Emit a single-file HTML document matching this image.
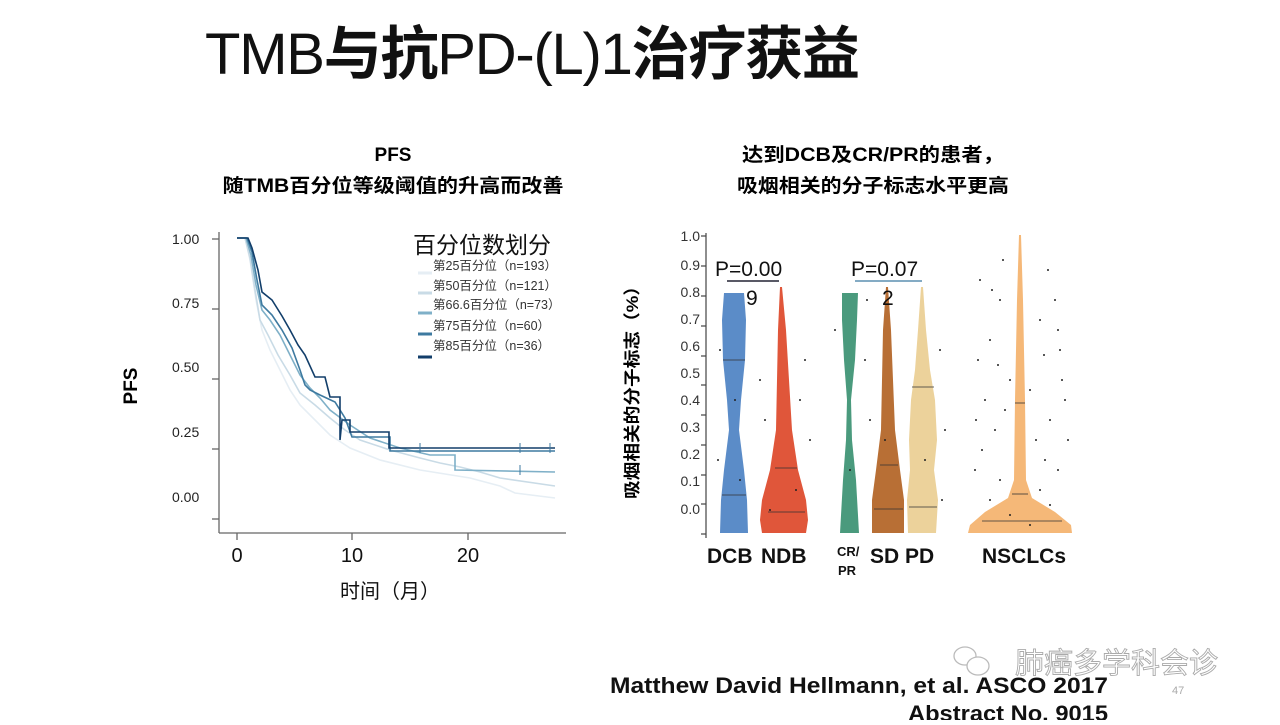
<!DOCTYPE html>
<html><head><meta charset="utf-8"><style>
html,body{margin:0;padding:0;background:#fff;}
body{width:1280px;height:720px;overflow:hidden;position:relative;font-family:"Liberation Sans","Noto Sans CJK SC",sans-serif;}
</style></head><body>
<svg width="1280" height="720" viewBox="0 0 1280 720" xmlns="http://www.w3.org/2000/svg" font-family="Liberation Sans, Noto Sans CJK SC, sans-serif">
<!-- Title -->
<text x="205" y="74" font-size="58" fill="#111" textLength="655" lengthAdjust="spacing"><tspan font-weight="normal">TMB</tspan><tspan font-weight="bold">与抗</tspan><tspan>PD-(L)1</tspan><tspan font-weight="bold">治疗获益</tspan></text>

<text x="393" y="161" font-size="19" font-weight="bold" text-anchor="middle">PFS</text>
<text x="393" y="192" font-size="19" font-weight="bold" text-anchor="middle" textLength="341" lengthAdjust="spacingAndGlyphs">随TMB百分位等级阈值的升高而改善</text>
<text x="873" y="161" font-size="19" font-weight="bold" text-anchor="middle" textLength="262" lengthAdjust="spacingAndGlyphs">达到DCB及CR/PR的患者，</text>
<text x="873" y="192" font-size="19" font-weight="bold" text-anchor="middle" textLength="272" lengthAdjust="spacingAndGlyphs">吸烟相关的分子标志水平更高</text>

<!-- Left chart axes -->
<g stroke="#666" stroke-width="1.3" fill="none">
<line x1="219" y1="232" x2="219" y2="533"/>
<line x1="219" y1="533" x2="566" y2="533"/>
<line x1="212" y1="239" x2="219" y2="239"/>
<line x1="212" y1="309" x2="219" y2="309"/>
<line x1="212" y1="379" x2="219" y2="379"/>
<line x1="212" y1="449" x2="219" y2="449"/>
<line x1="212" y1="519" x2="219" y2="519"/>
<line x1="237" y1="533" x2="237" y2="540"/>
<line x1="352" y1="533" x2="352" y2="540"/>
<line x1="468" y1="533" x2="468" y2="540"/>
</g>
<g font-size="14" fill="#222">
<text x="172" y="244">1.00</text>
<text x="172" y="308">0.75</text>
<text x="172" y="372">0.50</text>
<text x="172" y="437">0.25</text>
<text x="172" y="502">0.00</text>
</g>
<g font-size="20" fill="#111" text-anchor="middle">
<text x="237" y="562">0</text><text x="352" y="562">10</text><text x="468" y="562">20</text>
<text x="390" y="598">时间（月）</text>
</g>
<text x="137" y="386" font-size="19" font-weight="bold" transform="rotate(-90 137 386)" text-anchor="middle">PFS</text>

<!-- KM curves -->
<g fill="none" stroke-width="1.6">
<polyline stroke="#e6eef4" points="237,238 245,238 250,260 256,300 262,330 270,350 280,370 290,390 300,405 315,420 330,435 350,448 380,460 420,470 470,478 500,486 515,493 555,498"/>
<polyline stroke="#c9dbe6" points="237,238 245,238 250,258 255,290 260,320 268,335 278,355 290,375 300,393 315,405 330,418 345,430 360,440 390,450 420,458 440,463 460,467 480,472 500,478 555,486"/>
<polyline stroke="#7fb0c8" points="237,238 246,238 251,255 256,285 262,310 270,320 280,335 290,355 300,375 310,388 320,398 330,410 350,425 370,438 400,448 430,455 455,455 455,470 555,472"/>
<polyline stroke="#3e7aa0" points="237,238 247,238 252,252 257,280 262,305 272,315 282,330 292,348 300,370 305,385 310,390 320,395 335,402 345,418 352,437 390,437 390,451 555,451"/>
<polyline stroke="#123e6a" points="237,238 248,238 252,248 258,270 262,292 272,300 282,316 290,330 298,345 305,355 315,377 325,377 330,397 340,397 340,440 342,420 350,420 350,432 389,432 389,448 555,448"/>
</g>
<g stroke="#3e7aa0" stroke-width="1">
<line x1="420" y1="443" x2="420" y2="453"/><line x1="520" y1="443" x2="520" y2="453"/><line x1="550" y1="443" x2="550" y2="453"/><line x1="520" y1="465" x2="520" y2="475"/>
</g>
<!-- legend -->
<text x="413" y="253" font-size="23" fill="#111">百分位数划分</text>
<g font-size="12.5" fill="#333">
<text x="433" y="270">第25百分位（n=193）</text>
<text x="433" y="290">第50百分位（n=121）</text>
<text x="433" y="309">第66.6百分位（n=73）</text>
<text x="433" y="330">第75百分位（n=60）</text>
<text x="433" y="350">第85百分位（n=36）</text>
</g>
<g stroke-width="3">
<line x1="418" y1="273" x2="432" y2="273" stroke="#e6eef4"/>
<line x1="418" y1="293" x2="432" y2="293" stroke="#c9dbe6"/>
<line x1="418" y1="313" x2="432" y2="313" stroke="#7fb0c8"/>
<line x1="418" y1="334" x2="432" y2="334" stroke="#3e7aa0"/>
<line x1="418" y1="357" x2="432" y2="357" stroke="#123e6a"/>
</g>

<!-- Right chart -->
<g stroke="#444" stroke-width="1.2">
<line x1="706" y1="233" x2="706" y2="538"/>
<line x1="701" y1="236" x2="706" y2="236"/><line x1="701" y1="266" x2="706" y2="266"/><line x1="701" y1="296" x2="706" y2="296"/><line x1="701" y1="326" x2="706" y2="326"/><line x1="701" y1="356" x2="706" y2="356"/><line x1="701" y1="385" x2="706" y2="385"/><line x1="701" y1="415" x2="706" y2="415"/><line x1="701" y1="445" x2="706" y2="445"/><line x1="701" y1="475" x2="706" y2="475"/><line x1="701" y1="504" x2="706" y2="504"/><line x1="701" y1="534" x2="706" y2="534"/>
</g>
<g font-size="14" fill="#333" text-anchor="end">
<text x="700" y="241">1.0</text><text x="700" y="270">0.9</text><text x="700" y="297">0.8</text><text x="700" y="324">0.7</text><text x="700" y="351">0.6</text><text x="700" y="378">0.5</text><text x="700" y="405">0.4</text><text x="700" y="432">0.3</text><text x="700" y="459">0.2</text><text x="700" y="486">0.1</text><text x="700" y="514">0.0</text>
</g>
<text x="638" y="388" font-size="17" font-weight="bold" transform="rotate(-90 638 388)" text-anchor="middle" textLength="222" lengthAdjust="spacingAndGlyphs">吸烟相关的分子标志（%）</text>

<!-- violins -->
<path d="M724,293 L744,293 L746,320 L745,360 L741,400 L739,430 L744,470 L747,500 L748,533 L720,533 L721,500 L724,470 L729,430 L727,400 L723,360 L722,320 Z" fill="#5b8cc8"/>
<path d="M780,287 L782,287 L786,330 L789,380 L792,430 L798,470 L806,500 L808,520 L806,533 L762,533 L760,520 L762,500 L770,470 L776,430 L777,380 L778,330 Z" fill="#e0563a"/>
<path d="M842,293 L858,293 L857,320 L855,360 L851,400 L852,440 L856,480 L859,533 L840,533 L843,480 L846,440 L847,400 L844,360 L842,320 Z" fill="#4a9a7d"/>
<path d="M886,287 L888,287 L891,330 L893,380 L895,430 L900,470 L904,500 L904,533 L872,533 L872,500 L876,470 L881,430 L882,380 L883,330 Z" fill="#b86f35"/>
<path d="M921,287 L923,287 L926,330 L930,370 L935,400 L937,440 L934,470 L938,500 L936,533 L908,533 L907,500 L910,470 L909,440 L911,400 L915,370 L918,330 Z" fill="#ecd29b"/>
<path d="M1019,235 L1021,235 L1023,300 L1025,400 L1026,480 L1032,498 L1055,512 L1071,525 L1072,533 L968,533 L970,525 L985,512 L1008,498 L1014,480 L1015,400 L1017,300 Z" fill="#f5b878"/>
<g stroke="#333" stroke-width="0.8">
<line x1="723" y1="360" x2="745" y2="360"/><line x1="722" y1="495" x2="746" y2="495"/>
<line x1="768" y1="512" x2="805" y2="512"/><line x1="775" y1="468" x2="797" y2="468"/>
<line x1="874" y1="509" x2="903" y2="509"/><line x1="880" y1="465" x2="898" y2="465"/>
<line x1="909" y1="507" x2="937" y2="507"/><line x1="912" y1="387" x2="934" y2="387"/>
<line x1="982" y1="521" x2="1062" y2="521"/><line x1="1015" y1="403" x2="1025" y2="403"/><line x1="1012" y1="494" x2="1028" y2="494"/>
</g>
<text x="715" y="276" font-size="21" fill="#111">P=0.00</text>
<line x1="727" y1="281" x2="779" y2="281" stroke="#223" stroke-width="1.5"/>
<text x="746" y="305" font-size="21" fill="#111">9</text>
<text x="851" y="276" font-size="21" fill="#111">P=0.07</text>
<line x1="855" y1="281" x2="922" y2="281" stroke="#5b8fb0" stroke-width="1.5"/>
<text x="882" y="305" font-size="21" fill="#111">2</text>
<g font-weight="bold" fill="#111">
<text x="707" y="563" font-size="21">DCB</text>
<text x="761" y="563" font-size="21">NDB</text>
<text x="837" y="556" font-size="13">CR/</text>
<text x="838" y="575" font-size="13">PR</text>
<text x="870" y="563" font-size="21">SD</text>
<text x="905" y="563" font-size="21">PD</text>
<text x="982" y="563" font-size="21">NSCLCs</text>
</g>
<g fill="#222">
<circle cx="980" cy="280" r="1"/><circle cx="1000" cy="300" r="1"/><circle cx="990" cy="340" r="1"/><circle cx="1040" cy="320" r="1"/><circle cx="1055" cy="300" r="1"/><circle cx="1060" cy="350" r="1"/><circle cx="985" cy="400" r="1"/><circle cx="995" cy="430" r="1"/><circle cx="1050" cy="420" r="1"/><circle cx="1045" cy="460" r="1"/><circle cx="975" cy="470" r="1"/><circle cx="1010" cy="380" r="1"/><circle cx="1030" cy="390" r="1"/><circle cx="1065" cy="400" r="1"/><circle cx="1000" cy="480" r="1"/><circle cx="1040" cy="490" r="1"/><circle cx="1003" cy="260" r="1"/><circle cx="1048" cy="270" r="1"/>
<circle cx="992" cy="290" r="1"/><circle cx="1058" cy="330" r="1"/><circle cx="978" cy="360" r="1"/><circle cx="1062" cy="380" r="1"/><circle cx="1005" cy="410" r="1"/><circle cx="1036" cy="440" r="1"/><circle cx="982" cy="450" r="1"/><circle cx="1058" cy="470" r="1"/><circle cx="990" cy="500" r="1"/><circle cx="1050" cy="505" r="1"/><circle cx="1010" cy="515" r="1"/><circle cx="1030" cy="525" r="1"/><circle cx="998" cy="365" r="1"/><circle cx="1044" cy="355" r="1"/><circle cx="1068" cy="440" r="1"/><circle cx="976" cy="420" r="1"/>
<circle cx="760" cy="380" r="1"/><circle cx="765" cy="420" r="1"/><circle cx="800" cy="400" r="1"/><circle cx="810" cy="440" r="1"/><circle cx="835" cy="330" r="1"/><circle cx="865" cy="360" r="1"/><circle cx="870" cy="420" r="1"/><circle cx="940" cy="350" r="1"/><circle cx="945" cy="430" r="1"/><circle cx="720" cy="350" r="1"/><circle cx="718" cy="460" r="1"/>
<circle cx="805" cy="360" r="1"/><circle cx="796" cy="490" r="1"/><circle cx="770" cy="510" r="1"/><circle cx="735" cy="400" r="1"/><circle cx="740" cy="480" r="1"/><circle cx="850" cy="470" r="1"/><circle cx="885" cy="440" r="1"/><circle cx="925" cy="460" r="1"/><circle cx="942" cy="500" r="1"/><circle cx="867" cy="300" r="1"/>
</g>

<!-- citation -->
<text x="610" y="693" font-size="22" font-weight="bold" fill="#111" textLength="498" lengthAdjust="spacingAndGlyphs">Matthew David Hellmann, et al.  ASCO  2017</text>
<text x="908" y="721" font-size="22" font-weight="bold" fill="#111" textLength="200" lengthAdjust="spacingAndGlyphs">Abstract No. 9015</text>
<text x="1172" y="694" font-size="11" fill="#aaa">47</text>
<g stroke="#bbb" fill="none" stroke-width="1.3">
<ellipse cx="965" cy="656" rx="11" ry="9"/><ellipse cx="978" cy="666" rx="11" ry="9" fill="#fff"/>
</g>
<text x="1015" y="673" font-size="29" fill="#fff" stroke="#aaa" stroke-width="0.9">肺癌多学科会诊</text>
</svg>
</body></html>
